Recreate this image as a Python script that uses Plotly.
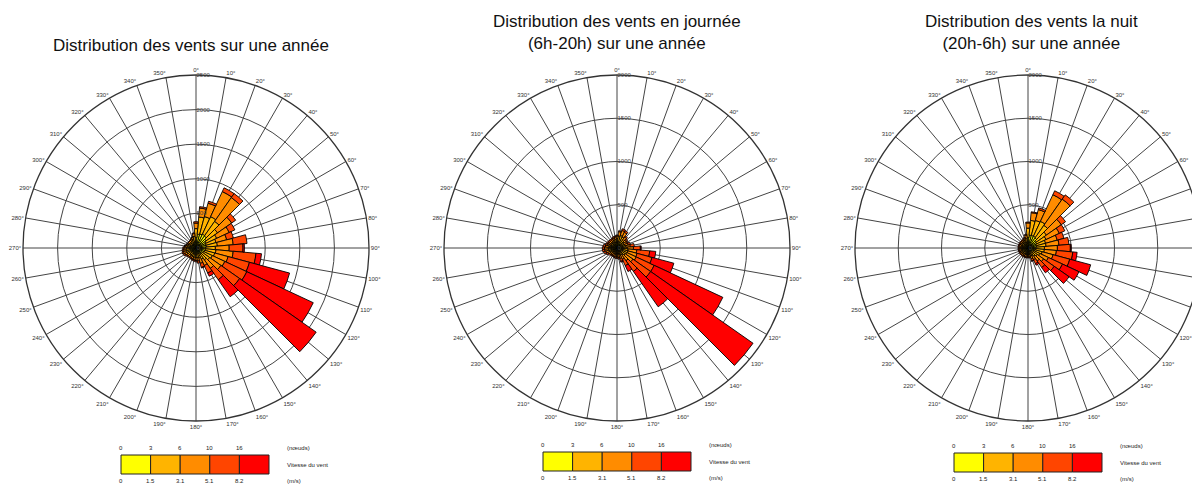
import plotly.graph_objects as go

W, H = 1200, 484
OFF = 8  # page body margin of the html page

directions = list(range(0, 360, 10))
colors = ["#FFFF00", "#FFB400", "#FF8C00", "#FF4500", "#FF0000"]
knots_labels = ["0", "3", "6", "10", "16"]
ms_labels = ["0", "1.5", "3.1", "5.1", "8.2"]

titles = [
    "Distribution des vents sur une année",
    "Distribution des vents en journée<br>(6h-20h) sur une année",
    "Distribution des vents la nuit<br>(20h-6h) sur une année",
]

# ---- annual (counts per speed class, by direction 0..350) ----
annual_c1 = [150, 200, 210, 220, 210, 180, 160, 150, 150, 140, 140, 130, 120, 110, 100, 90, 80, 80,
             80, 80, 80, 75, 75, 80, 85, 85, 85, 85, 80, 75, 70, 70, 70, 75, 85, 100]
annual_c2 = [130, 250, 260, 280, 260, 200, 170, 150, 160, 140, 150, 150, 140, 130, 110, 90, 70, 60,
             60, 55, 50, 50, 50, 55, 60, 65, 60, 55, 50, 45, 40, 40, 40, 45, 50, 70]
annual_c3 = [80, 130, 200, 400, 420, 250, 200, 160, 230, 200, 250, 200, 200, 200, 150, 100, 80, 50,
             40, 40, 35, 30, 30, 30, 35, 40, 35, 35, 30, 25, 25, 25, 25, 25, 30, 40]
annual_c4 = [20, 20, 30, 60, 70, 70, 90, 100, 200, 200, 330, 320, 350, 330, 200, 120, 60, 30,
             20, 15, 15, 15, 15, 15, 20, 20, 20, 15, 10, 5, 5, 5, 5, 5, 5, 10]
annual_c5 = [0, 0, 0, 0, 0, 0, 0, 0, 0, 20, 80, 600, 1060, 1350, 300, 50, 10, 0,
             0, 0, 0, 0, 0, 0, 0, 0, 0, 0, 0, 0, 0, 0, 0, 0, 0, 0]

# ---- day 6h-20h ----
day_c1 = [60, 70, 70, 70, 60, 55, 50, 50, 55, 60, 60, 60, 55, 50, 45, 40, 40, 40,
          40, 40, 40, 40, 40, 40, 45, 50, 50, 50, 50, 45, 45, 45, 45, 45, 50, 55]
day_c2 = [50, 70, 80, 70, 50, 45, 40, 45, 50, 60, 70, 70, 70, 65, 55, 45, 40, 35,
          35, 35, 30, 30, 30, 35, 40, 45, 50, 50, 45, 40, 35, 35, 35, 35, 40, 45]
day_c3 = [30, 50, 60, 60, 45, 35, 35, 40, 50, 70, 100, 110, 120, 110, 80, 60, 45, 35,
          30, 30, 30, 30, 30, 30, 35, 40, 45, 45, 40, 35, 30, 30, 30, 30, 30, 30]
day_c4 = [10, 10, 20, 20, 15, 15, 15, 25, 45, 80, 150, 180, 230, 250, 150, 80, 35, 20,
          15, 15, 10, 10, 10, 15, 20, 25, 25, 25, 25, 20, 20, 15, 15, 15, 15, 10]
day_c5 = [0, 0, 0, 0, 0, 0, 0, 0, 0, 10, 70, 260, 875, 1445, 500, 75, 10, 0,
          0, 0, 0, 0, 0, 0, 0, 0, 0, 0, 0, 0, 0, 0, 0, 0, 0, 0]

# ---- night 20h-6h ----
night_c1 = [120, 150, 150, 150, 140, 120, 110, 100, 100, 90, 90, 80, 70, 60, 55, 50, 45, 45,
            45, 45, 45, 45, 45, 45, 45, 45, 45, 45, 45, 45, 45, 45, 45, 45, 50, 60]
night_c2 = [110, 170, 180, 190, 180, 140, 120, 110, 110, 100, 100, 90, 80, 70, 60, 50, 45, 35,
            35, 35, 35, 35, 35, 35, 35, 35, 35, 35, 35, 35, 35, 35, 35, 35, 40, 50]
night_c3 = [60, 90, 130, 340, 370, 210, 170, 140, 150, 150, 140, 130, 110, 90, 70, 50, 40, 25,
            25, 25, 25, 25, 25, 25, 25, 25, 25, 25, 25, 25, 25, 25, 25, 25, 30, 40]
night_c4 = [10, 10, 20, 50, 60, 60, 70, 80, 115, 150, 190, 200, 180, 150, 90, 50, 25, 10,
            10, 10, 10, 10, 10, 10, 10, 10, 10, 10, 10, 10, 10, 10, 10, 10, 10, 10]
night_c5 = [0, 0, 0, 0, 0, 0, 0, 0, 0, 10, 50, 250, 210, 210, 75, 20, 5, 0,
            0, 0, 0, 0, 0, 0, 0, 0, 0, 0, 0, 0, 0, 0, 0, 0, 0, 0]

roses = [
    [annual_c1, annual_c2, annual_c3, annual_c4, annual_c5],
    [day_c1, day_c2, day_c3, day_c4, day_c5],
    [night_c1, night_c2, night_c3, night_c4, night_c5],
]
rmax = [2500, 2000, 2000]

# layout geometry (screen pixels)
R = 173
centers = [(196, 248), (617, 248), (1028, 248)]
title_cy = [45, 32.5, 32.5]
title_cx = [191, 617, 1031]
legend_pos = [(121, 455), (543, 452), (954, 453)]


def px(x):
    return (x - OFF) / W


def py(y):
    return 1 - (y - OFF) / H


fig = go.Figure()
annotations = []
shapes = []
font_family = "Liberation Sans, Arial, sans-serif"

for k, classes in enumerate(roses):
    sub = "polar" if k == 0 else f"polar{k+1}"
    for ci, vals in enumerate(classes):
        fig.add_trace(go.Barpolar(
            r=vals, theta=directions, subplot=sub,
            marker=dict(color=colors[ci], line=dict(color="#000000", width=0.9)),
            showlegend=False, hoverinfo="skip",
        ))
    cx, cy = centers[k]
    x0 = max(0.0, px(cx - R))
    x1 = min(1.0, px(cx + R))
    polar = dict(
        domain=dict(x=[x0, x1], y=[py(cy + R), py(cy - R)]),
        bgcolor="white",
        bargap=0,
        angularaxis=dict(
            rotation=90, direction="clockwise",
            tickmode="linear", tick0=0, dtick=10, ticksuffix="°",
            tickfont=dict(size=6, color="#333333", family=font_family),
            showline=True, linecolor="#333333", linewidth=1.3,
            gridcolor="#444444", gridwidth=1.1, ticks="",
        ),
        radialaxis=dict(
            range=[0, rmax[k]], tickmode="linear", tick0=0, dtick=500,
            angle=90, tickangle=90, showline=False,
            tickfont=dict(size=6, color="#444444", family=font_family),
            gridcolor="#444444", gridwidth=1.1, ticks="",
            showticklabels=True,
        ),
    )
    fig.update_layout(**{sub: polar})

    # title
    annotations.append(dict(
        text=titles[k], x=px(title_cx[k]), y=py(title_cy[k]), xref="paper", yref="paper",
        xanchor="center", yanchor="middle", showarrow=False,
        font=dict(size=17, color="#111111", family=font_family),
    ))

    # legend bar
    lx, ly = legend_pos[k]
    bw, bh = 29.6, 19
    for ci in range(5):
        shapes.append(dict(
            type="rect", xref="paper", yref="paper",
            x0=px(lx + ci * bw), x1=px(lx + (ci + 1) * bw),
            y0=py(ly + bh), y1=py(ly),
            fillcolor=colors[ci], line=dict(color="#222222", width=1),
        ))
        annotations.append(dict(
            text=knots_labels[ci], x=px(lx + ci * bw), y=py(ly - 7), xref="paper", yref="paper",
            xanchor="center", yanchor="middle", showarrow=False,
            font=dict(size=6, color="#222222", family=font_family),
        ))
        annotations.append(dict(
            text=ms_labels[ci], x=px(lx + ci * bw), y=py(ly + bh + 7), xref="paper", yref="paper",
            xanchor="center", yanchor="middle", showarrow=False,
            font=dict(size=6, color="#222222", family=font_family),
        ))
    annotations.append(dict(
        text="(nœuds)", x=px(lx + 5 * bw + 16), y=py(ly - 7), xref="paper", yref="paper",
        xanchor="left", yanchor="middle", showarrow=False,
        font=dict(size=6, color="#222222", family=font_family),
    ))
    annotations.append(dict(
        text="(m/s)", x=px(lx + 5 * bw + 16), y=py(ly + bh + 7), xref="paper", yref="paper",
        xanchor="left", yanchor="middle", showarrow=False,
        font=dict(size=6, color="#222222", family=font_family),
    ))
    annotations.append(dict(
        text="Vitesse du vent", x=px(lx + 5 * bw + 16), y=py(ly + bh / 2), xref="paper", yref="paper",
        xanchor="left", yanchor="middle", showarrow=False,
        font=dict(size=6, color="#222222", family=font_family),
    ))

fig.update_layout(
    width=W, height=H,
    margin=dict(l=0, r=0, t=0, b=0),
    paper_bgcolor="white",
    annotations=annotations,
    shapes=shapes,
    font=dict(family=font_family),
)

fig.write_html("out.html")
